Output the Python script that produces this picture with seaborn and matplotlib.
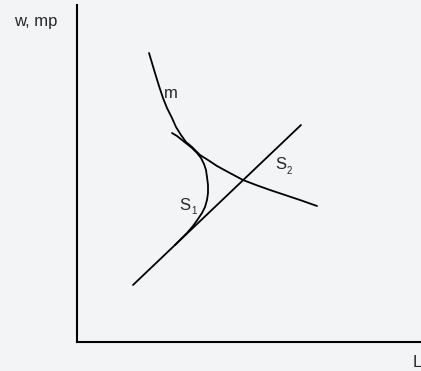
import matplotlib
matplotlib.use("Agg")
import matplotlib.pyplot as plt
import seaborn as sns
import pandas as pd

# schematic curves, in axis units (origin at the corner of the axes)
m_x = [72.5, 75.5, 78.5, 82.5, 86.5, 90.5, 95.5, 99.5, 104.5, 109.5, 115.5,
       123.5, 131.5, 140.5, 151.5, 166.5, 179.5, 193.5, 208.5, 223.5, 240.5]
m_y = [289, 279, 269, 256, 244, 234, 224, 215, 207, 200, 195,
       187, 182, 176, 170, 162, 157, 152, 147, 142, 136]

s1_x = [95.5, 100.5, 105.5, 110.5, 115.5, 120.5, 124.5, 127.5, 129.5, 130.5,
        131.5, 131.5, 130.5, 128.5, 125.5, 121.5, 116.5, 110.5, 104.5, 98.5]
s1_y = [209, 206, 202, 198, 194, 189, 184, 178, 172, 165,
        157, 149, 142, 135, 129, 123, 116, 109, 103, 97]

line_x = [56.5, 224.5]
line_y = [57, 217]

y_label = "w, mp"
x_label = "L"

bg = "#f3f4f6"
sns.set_theme(style="white", rc={"figure.facecolor": bg, "axes.facecolor": bg})
plt.rcParams["font.family"] = ["Liberation Sans", "DejaVu Sans"]

fig = plt.figure(figsize=(4.21, 3.71), dpi=100)
ax = fig.add_axes([76.5 / 421, 29 / 371, 344.5 / 421, 337 / 371])

m_df = pd.DataFrame({"x": m_x, "y": m_y})
s1_df = pd.DataFrame({"x": s1_x, "y": s1_y})
line_df = pd.DataFrame({"x": line_x, "y": line_y})

for d in (m_df, s1_df, line_df):
    sns.lineplot(data=d, x="x", y="y", sort=False, estimator=None,
                 errorbar=None, color="black", lw=1.3, ax=ax,
                 solid_joinstyle="round", solid_capstyle="round")

ax.set_xlim(0, 344.5)
ax.set_ylim(0, 337)
ax.set_xticks([])
ax.set_yticks([])
ax.set_xlabel("")
ax.set_ylabel("")
for side in ("top", "right"):
    ax.spines[side].set_visible(False)
for side in ("left", "bottom"):
    ax.spines[side].set_color("black")
    ax.spines[side].set_linewidth(1.5)

fs = 12
ax.text(87.5, 244, "m", fontsize=fs, va="baseline")
ax.text(102.5, 132, "S", fontsize=fs, va="baseline")
ax.text(114.5, 128, "1", fontsize=7, va="baseline")
ax.text(198.5, 173, "S", fontsize=fs, va="baseline")
ax.text(210.5, 168, "2", fontsize=7, va="baseline")

fig.text(14 / 421, 1 - 26 / 371, y_label, fontsize=fs, va="baseline")
fig.text(413 / 421, 1 - 367 / 371, x_label, fontsize=fs, va="baseline")

fig.savefig("out.png", dpi=100, facecolor=bg)
